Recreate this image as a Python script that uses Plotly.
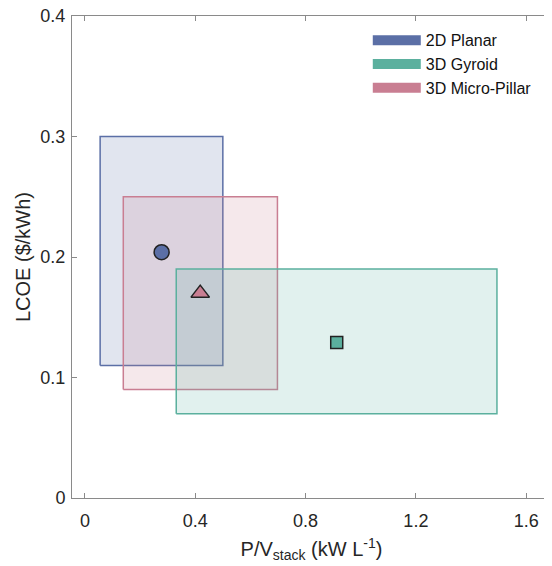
import plotly.graph_objects as go

series = ["2D Planar", "3D Gyroid", "3D Micro-Pillar"]
colors = ["rgb(91,111,166)", "rgb(91,176,158)", "rgb(201,126,146)"]
fills = ["rgba(91,111,166,0.18)", "rgba(91,176,158,0.18)", "rgba(201,126,146,0.18)"]
x_min = [0.055, 0.331, 0.139]
x_max = [0.50, 1.494, 0.698]
y_min = [0.11, 0.07, 0.09]
y_max = [0.30, 0.19, 0.25]
pt_x = [0.278, 0.913, 0.418]
pt_y = [0.204, 0.129, 0.170]
symbols = ["circle", "square", "triangle-up"]
msizes = [15, 12, 16]

fig = go.Figure()
# draw order: blue, pink, green
for i in [0, 2, 1]:
    fig.add_trace(go.Scatter(
        x=[x_min[i], x_max[i], x_max[i], x_min[i], x_min[i]],
        y=[y_min[i], y_min[i], y_max[i], y_max[i], y_min[i]],
        mode="lines", fill="toself", fillcolor=fills[i],
        line=dict(color=colors[i], width=1.5), showlegend=False, hoverinfo="skip"))
for i in range(3):
    fig.add_trace(go.Scatter(x=[None], y=[None], mode="lines",
                             line=dict(color=colors[i], width=13), name=series[i]))
for i in range(3):
    fig.add_trace(go.Scatter(x=[pt_x[i]], y=[pt_y[i]], mode="markers",
                             marker=dict(symbol=symbols[i], size=msizes[i], color=colors[i],
                                         line=dict(color="#222222", width=1.5)),
                             showlegend=False))

axis_common = dict(showline=True, linecolor="#8a8a8a", linewidth=1, mirror="allticks",
                   ticks="inside", ticklen=5, tickcolor="#8a8a8a", showgrid=False,
                   zeroline=False, automargin=False, ticklabeloverflow="allow",
                   tickfont=dict(size=18, color="#262626"))
# page body has an 8px margin, so the figure is sized/offset to compensate
fig.update_layout(
    width=544, height=558,
    margin=dict(l=64, r=1, t=8, b=68),
    plot_bgcolor="white", paper_bgcolor="white",
    font=dict(family="Liberation Sans, Arial, sans-serif", color="#262626"),
    xaxis=dict(range=[-0.047, 1.69], tickvals=[0, 0.4, 0.8, 1.2, 1.6],
               ticktext=["0", "0.4", "0.8", "1.2", "1.6"], ticklabelstandoff=6,
               title=dict(text="P/V<sub>stack</sub> (kW L<sup>-1</sup>)", font=dict(size=20), standoff=12),
               **axis_common),
    yaxis=dict(range=[0, 0.4], tickvals=[0, 0.1, 0.2, 0.3, 0.4],
               ticktext=["0", "0.1", "0.2", "0.3", "0.4"], ticklabelstandoff=2,
               title=dict(text="LCOE ($/kWh)", font=dict(size=20), standoff=4),
               **axis_common),
    legend=dict(x=0.6175, y=0.985, xanchor="left", yanchor="top", bgcolor="rgba(0,0,0,0)",
                font=dict(size=16, color="#111111"), itemwidth=48, tracegroupgap=0),
)
fig.write_html("out.html")
